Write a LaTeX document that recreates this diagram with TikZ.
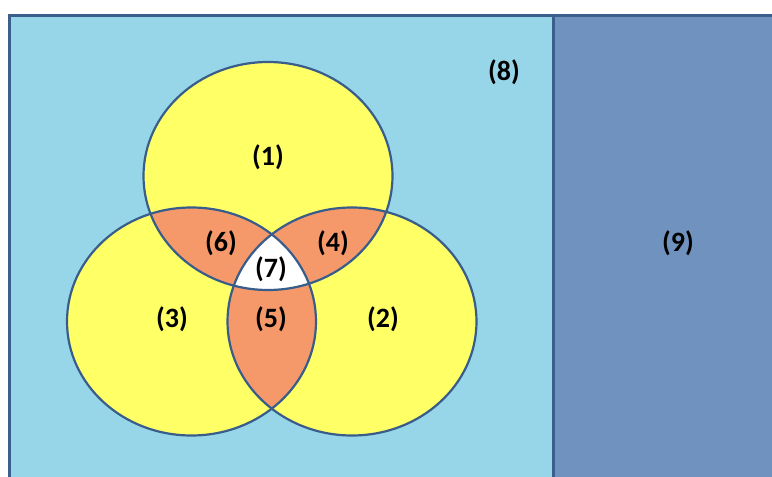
\documentclass[tikz,border=0pt]{standalone}
\usepackage{fontspec}
\setmainfont{Carlito}
\definecolor{skyfill}{HTML}{97D6E8}
\definecolor{steelfill}{HTML}{7092BE}
\definecolor{framecol}{HTML}{3A5F8C}
\definecolor{setyellow}{HTML}{FFFF66}
\definecolor{setorange}{HTML}{F5996A}
\definecolor{edgeblue}{HTML}{385D8A}
\begin{document}
\begin{tikzpicture}[x=1pt,y=-1pt,
  setshape/.style={x radius=124.5pt, y radius=114pt},
  setedge/.style={draw=edgeblue, line width=2.2pt},
  frameline/.style={draw=framecol, line width=3pt},
  lbl/.style={font=\bfseries\fontsize{28}{32}\selectfont, text=black, inner sep=0pt}]
\useasboundingbox (0,0) rectangle (772,477);
\clip (0,0) rectangle (772,477);
\fill[white] (0,0) rectangle (772,477);

% universe and the outside region
\fill[skyfill] (9.5,15.5) rectangle (553.5,490);
\fill[steelfill] (553.5,15.5) rectangle (790,490);
\draw[frameline] (9.5,490) -- (9.5,15.5) -- (790,15.5);
\draw[frameline, line width=2.5pt] (553.5,15.5) -- (553.5,490);

% set centres
\coordinate (cA) at (268,176);
\coordinate (cB) at (352,321.5);
\coordinate (cC) at (191.5,321.5);

% single sets
\fill[setyellow] (cA) ellipse [setshape];
\fill[setyellow] (cB) ellipse [setshape];
\fill[setyellow] (cC) ellipse [setshape];

% pairwise overlaps
\begin{scope}
  \clip (cA) ellipse [setshape];
  \fill[setorange] (cB) ellipse [setshape];
  \fill[setorange] (cC) ellipse [setshape];
\end{scope}
\begin{scope}
  \clip (cB) ellipse [setshape];
  \fill[setorange] (cC) ellipse [setshape];
\end{scope}

% triple overlap
\begin{scope}
  \clip (cA) ellipse [setshape];
  \clip (cB) ellipse [setshape];
  \fill[white] (cC) ellipse [setshape];
\end{scope}

% outlines
\draw[setedge] (cA) ellipse [setshape];
\draw[setedge] (cB) ellipse [setshape];
\draw[setedge] (cC) ellipse [setshape];

% region labels
\node[lbl] (r1) at (268,157) {(1)};
\node[lbl] (r2) at (383,319) {(2)};
\node[lbl] (r3) at (172,319) {(3)};
\node[lbl] (r4) at (333,243) {(4)};
\node[lbl] (r5) at (271,319) {(5)};
\node[lbl] (r6) at (221,243) {(6)};
\node[lbl] (r7) at (271,269) {(7)};
\node[lbl] (r8) at (504,72) {(8)};
\node[lbl] (r9) at (678,243) {(9)};
\end{tikzpicture}
\end{document}
